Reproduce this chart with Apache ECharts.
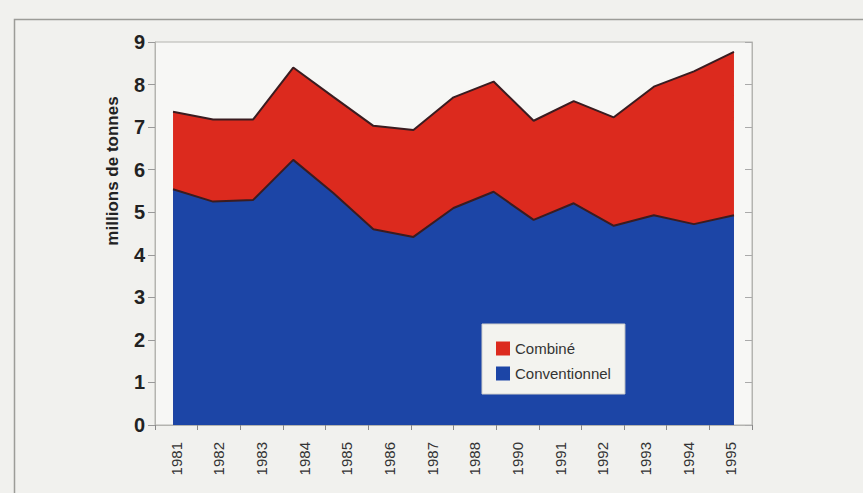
<!DOCTYPE html>
<html>
<head>
<meta charset="utf-8">
<script src="https://cdn.jsdelivr.net/npm/echarts@6/dist/echarts.min.js"></script>
<style>
  html, body { margin: 0; padding: 0; background: #f1f1ee; }
  #chart { width: 863px; height: 493px; }
</style>
</head>
<body>
<div id="chart"></div>
<script>
// Yearly tonnages, millions of tonnes
const years = [1981, 1982, 1983, 1984, 1985, 1986, 1987, 1988, 1989, 1990, 1991, 1992, 1993, 1994, 1995];
const conventionnel = [5.54, 5.25, 5.29, 6.23, 5.45, 4.60, 4.42, 5.10, 5.48, 4.82, 5.21, 4.68, 4.93, 4.72, 4.93];
const combine = [1.82, 1.93, 1.89, 2.17, 2.26, 2.43, 2.51, 2.60, 2.59, 2.33, 2.40, 2.55, 3.02, 3.59, 3.84];
// Printed axis labels (the printed axis has no 1989 label)
const yearLabels = ['1981', '1982', '1983', '1984', '1985', '1986', '1987', '1988', '1990', '1991', '1992', '1993', '1994', '1995'];
const yTicks = [0, 1, 2, 3, 4, 5, 6, 7, 8, 9];

const seriesNames = ['Combiné', 'Conventionnel'];
const RED = '#dc2a1e';
const BLUE = '#1c45a6';
const EDGE = '#3a1c20';
const FRAME = '#b4b4b0';
const FONT = '"Liberation Sans", Arial, sans-serif';

const chart = echarts.init(document.getElementById('chart'), null, { renderer: 'svg' });

// Combiné sits on top of Conventionnel: its upper edge is the running total
const totals = years.map((y, i) => [y, +(conventionnel[i] + combine[i]).toFixed(2)]);
const lower = years.map((y, i) => [y, conventionnel[i]]);

chart.setOption({
  backgroundColor: '#f1f1ee',
  animation: false,
  textStyle: { fontFamily: FONT },
  graphic: [
    {
      type: 'rect',
      shape: { x: 14.5, y: 19.5, width: 900, height: 520 },
      style: { fill: 'none', stroke: '#9c9c98', lineWidth: 1.5 },
      silent: true
    },
    {
      type: 'text',
      x: 112, y: 171,
      rotation: Math.PI / 2,
      style: {
        text: 'millions de tonnes',
        fill: '#222',
        font: 'bold 17px ' + FONT,
        textAlign: 'center',
        textVerticalAlign: 'middle'
      }
    }
  ],
  grid: {
    left: 155, top: 42, width: 597, height: 383,
    show: true,
    backgroundColor: '#f7f7f5',
    borderColor: FRAME,
    borderWidth: 1
  },
  legend: {
    data: seriesNames,
    orient: 'vertical',
    left: 482, top: 324,
    itemWidth: 14, itemHeight: 14,
    itemGap: 10,
    icon: 'rect',
    padding: [17, 14, 13, 14],
    backgroundColor: '#f3f3ef',
    borderColor: '#d0d0cc',
    borderWidth: 1,
    itemStyle: { borderWidth: 0 },
    textStyle: { color: '#333', fontSize: 15, fontFamily: FONT }
  },
  xAxis: [
    {
      // numeric year scale carrying the areas
      type: 'value',
      min: 1980.55, max: 1995.45,
      show: false
    },
    {
      type: 'category',
      data: yearLabels,
      position: 'bottom',
      boundaryGap: true,
      axisLine: { lineStyle: { color: FRAME } },
      axisTick: { alignWithLabel: true, length: 5, lineStyle: { color: '#888' } },
      axisLabel: { rotate: 90, margin: 17, color: '#333', fontSize: 15, fontFamily: FONT, interval: 0 },
      splitLine: { show: false }
    },
    {
      type: 'category',
      data: yearLabels,
      position: 'bottom',
      boundaryGap: true,
      axisLine: { show: false },
      axisTick: { show: true, interval: 0, length: 5, lineStyle: { color: '#888' } },
      axisLabel: { show: false },
      splitLine: { show: false }
    }
  ],
  yAxis: [
    {
      type: 'value',
      min: yTicks[0], max: yTicks[yTicks.length - 1], interval: 1,
      axisLine: { show: true, lineStyle: { color: FRAME } },
      axisTick: { show: true, length: 7, lineStyle: { color: '#999' } },
      axisLabel: { margin: 10, color: '#222', fontSize: 20, fontWeight: 'bold', fontFamily: FONT },
      splitLine: { show: false }
    },
    {
      type: 'value',
      position: 'right',
      min: yTicks[0], max: yTicks[yTicks.length - 1], interval: 1,
      axisLine: { show: true, lineStyle: { color: FRAME } },
      axisTick: { show: true, inside: true, length: 7, lineStyle: { color: '#aaa' } },
      axisLabel: { show: false },
      splitLine: { show: false }
    }
  ],
  series: [
    {
      name: 'Combiné',
      type: 'line',
      xAxisIndex: 0, yAxisIndex: 0,
      data: totals,
      symbol: 'none',
      z: 2,
      itemStyle: { color: RED },
      lineStyle: { color: EDGE, width: 2 },
      areaStyle: { color: RED, opacity: 1 }
    },
    {
      name: 'Conventionnel',
      type: 'line',
      xAxisIndex: 0, yAxisIndex: 0,
      data: lower,
      symbol: 'none',
      z: 3,
      itemStyle: { color: BLUE },
      lineStyle: { color: EDGE, width: 2 },
      areaStyle: { color: BLUE, opacity: 1 }
    }
  ]
});
</script>
</body>
</html>
